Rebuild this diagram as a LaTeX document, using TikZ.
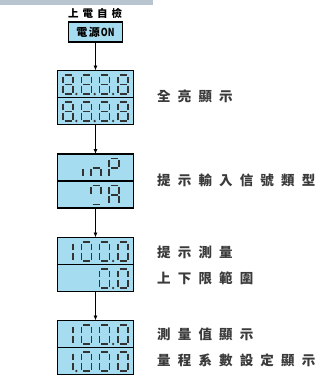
\documentclass[tikz,border=0pt]{standalone}
\usepackage{fontspec}
\usepackage{tikz}
\usetikzlibrary{positioning,arrows.meta}

\newfontfamily\cjkplain{Noto Sans CJK TC}
\newfontfamily\cjkwide[LetterSpace=53]{Noto Sans CJK TC}
\newfontfamily\cjktitle[LetterSpace=38]{Noto Sans CJK TC}

\definecolor{barblue}{HTML}{B8C5D1}
\definecolor{lcdblue}{HTML}{A6DCEF}
\definecolor{segdark}{HTML}{333333}
\definecolor{textgray}{HTML}{3A3A3A}

% segments of one lcd digit, 10 wide and 19 high
\newcommand{\lcda}{\draw[seg] (1.5,0)--(8.5,0);}
\newcommand{\lcdb}{\draw[seg] (10,1.5)--(10,8.2);}
\newcommand{\lcdc}{\draw[seg] (10,10.8)--(10,17.5);}
\newcommand{\lcdd}{\draw[seg] (1.5,19)--(8.5,19);}
\newcommand{\lcde}{\draw[seg] (0,10.8)--(0,17.5);}
\newcommand{\lcdf}{\draw[seg] (0,1.5)--(0,8.2);}
\newcommand{\lcdg}{\draw[seg] (1.5,9.5)--(8.5,9.5);}
\newcommand{\lcdp}{\fill[segdark] (13.4,19) circle (1.3pt);}
\newcommand{\lcdchar}[3]{%
  \begin{scope}[shift={(#1,#2)}]
    \foreach \s in {#3} {\csname lcd\s\endcsname}
  \end{scope}}

\begin{document}
\begin{tikzpicture}[x=1pt,y=-1pt,
    lcdrow/.style={draw=black,line width=1.6pt,fill=lcdblue,minimum width=76pt,minimum height=27pt,inner sep=0pt,outer sep=0pt},
    seg/.style={segdark,line width=1.1pt},
    flow/.style={-{Latex[length=5pt,width=4pt]},line width=0.8pt},
    lbl/.style={anchor=west,inner sep=0pt,text=textgray,font=\cjkwide\bfseries\fontsize{13.5}{13.5}\selectfont}]

\useasboundingbox (0,0) rectangle (324,375);
\fill[barblue] (0,0) rectangle (153,4.5);

\node[anchor=west,inner sep=0pt,font=\cjktitle\bfseries\fontsize{10.5}{10.5}\selectfont] (title) at (68,13) {上電自檢};
\node[draw=black,line width=1.8pt,fill=lcdblue,minimum width=54pt,minimum height=19.5pt,inner sep=0pt,font=\cjkplain\bfseries\fontsize{11}{11}\selectfont] (power) at (95.5,32) {電\hspace{1.5pt}源\hspace{1pt}\scalebox{0.8}[1]{ON}};

% the four displays
\node[lcdrow] (allonA) at (95.5,84) {};
\node[lcdrow,below=0pt of allonA] (allonB) {};

\node[lcdrow] (inpA) at (95.5,167.5) {};
\node[lcdrow,below=0pt of inpA] (inpB) {};

\node[lcdrow] (rangeA) at (95.5,251) {};
\node[lcdrow,below=0pt of rangeA] (rangeB) {};

\node[lcdrow] (measA) at (95.5,334) {};
\node[lcdrow,below=0pt of measA] (measB) {};

\draw[flow] (power) -- (allonA);
\draw[flow] (allonB) -- (inpA);
\draw[flow] (inpB) -- (rangeA);
\draw[flow] (rangeB) -- (measA);

% digits
\foreach \dy in {75,102} {
  \foreach \dx in {63,81.3,99.7} {
    \lcdchar{\dx}{\dy}{a,b,c,d,e,f,g,p}
  }
  \lcdchar{118}{\dy}{a,b,c,d,e,f,g}
}

\lcdchar{73}{158.5}{c}
\lcdchar{91}{158.5}{c,e,g}
\lcdchar{109}{158.5}{a,b,e,f,g}
\lcdchar{91}{185.5}{a,b,f,d}
\lcdchar{109}{185.5}{a,b,c,e,f,g}

\foreach \dy in {242,325} {
  \lcdchar{63}{\dy}{b,c}
  \lcdchar{81.3}{\dy}{a,b,c,d,e,f}
  \lcdchar{99.7}{\dy}{a,b,c,d,e,f,p}
  \lcdchar{118}{\dy}{a,b,c,d,e,f}
}
\lcdchar{99.7}{269}{a,b,c,d,e,f,p}
\lcdchar{118}{269}{a,b,c,d,e,f}

\lcdchar{63}{352}{b,c,p}
\lcdchar{81.3}{352}{a,b,c,d,e,f}
\lcdchar{99.7}{352}{a,b,c,d,e,f}
\lcdchar{118}{352}{a,b,c,d,e,f}

% labels
\node[lbl] (lblallon) at (157,96) {全亮顯示};
\node[lbl] (lblinp) at (157,180) {提示輸入信號類型};
\node[lbl] (lblrangeA) at (157,252) {提示測量};
\node[lbl] (lblrangeB) at (157,278) {上下限範圍};
\node[lbl] (lblmeasA) at (157,334) {測量值顯示};
\node[lbl] (lblmeasB) at (157,360) {量程系數設定顯示};

\end{tikzpicture}
\end{document}
